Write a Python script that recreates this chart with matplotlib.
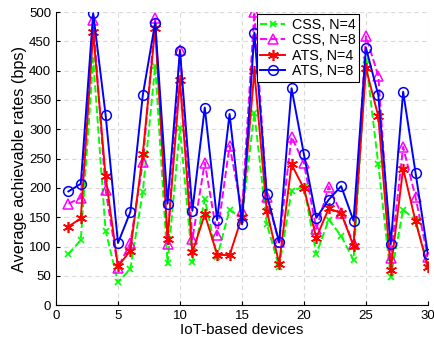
import numpy as np
import matplotlib
matplotlib.use("Agg")
import matplotlib.pyplot as plt

plt.rcParams['font.family'] = ['Liberation Sans', 'DejaVu Sans']

devices = list(range(1, 31))

css_n4 = [87, 111, 420, 127, 39, 62, 193, 408, 72, 302,
          73, 181, 82, 163, 148, 328, 139, 65, 195, 202,
          87, 146, 118, 77, 418, 240, 48, 163, 145, 68]
css_n8 = [173, 183, 486, 197, 64, 106, 244, 489, 104, 436,
          112, 243, 119, 272, 161, 500, 185, 107, 287, 242,
          130, 202, 157, 104, 459, 391, 80, 270, 184, 82]
ats_n4 = [134, 148, 466, 220, 66, 93, 258, 472, 113, 384,
          90, 155, 86, 85, 151, 399, 161, 71, 240, 199,
          115, 165, 157, 101, 404, 322, 60, 233, 143, 65]
ats_n8 = [194, 207, 498, 325, 106, 159, 358, 482, 173, 434,
          161, 337, 145, 326, 138, 465, 189, 107, 370, 257,
          149, 180, 203, 144, 439, 358, 104, 364, 226, 87]

fig = plt.figure(figsize=(4.34, 3.44), dpi=100)
ax = fig.add_axes([0.129, 0.113, 0.857, 0.852])

ax.plot(devices, css_n4, '--', color=(0, 1, 0), marker='x', markersize=5,
        markeredgewidth=1.2, linewidth=1.4, label='CSS, N=4')
ax.plot(devices, css_n8, '--', color=(1, 0, 1), marker='^', markersize=7,
        markerfacecolor='none', markeredgewidth=1.1, linewidth=1.4, label='CSS, N=8')
ax.plot(devices, ats_n4, '-', color=(1, 0, 0), marker=(6, 2, 0), markersize=8,
        markeredgewidth=1.2, linewidth=1.4, label='ATS, N=4')
ax.plot(devices, ats_n8, '-', color=(0, 0, 1), marker='o', markersize=7,
        markerfacecolor='none', markeredgewidth=1.1, linewidth=1.4, label='ATS, N=8')

ax.set_xlim(0, 30)
ax.set_ylim(0, 500)
ax.set_xticks(np.arange(0, 31, 5))
ax.set_yticks(np.arange(0, 501, 50))
ax.grid(True, linestyle=(0, (4, 3)), color='#d9d9d9', linewidth=0.8)
ax.set_axisbelow(True)
ax.tick_params(direction='in', labelsize=9.5, length=3, top=False, right=False)
for s in ['top', 'right']:
    ax.spines[s].set_visible(False)

ax.set_xlabel('IoT-based devices', fontsize=11, labelpad=1)
ax.set_ylabel('Average achievable rates (bps)', fontsize=11.7, labelpad=1)

leg = ax.legend(loc='upper right', bbox_to_anchor=(0.815, 0.992), fontsize=10.3,
                fancybox=False, framealpha=1, edgecolor='black',
                handlelength=1.75, borderpad=0.25, labelspacing=0.1,
                handletextpad=0.45, borderaxespad=0)
leg.get_frame().set_linewidth(0.8)

fig.savefig('out.png', dpi=100)
